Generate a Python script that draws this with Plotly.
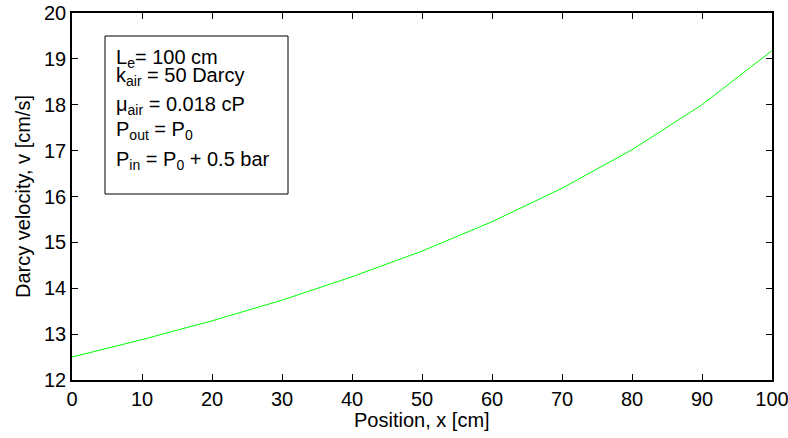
import plotly.graph_objects as go

position_cm = [0, 10, 20, 30, 40, 50, 60, 70, 80, 90, 100]
darcy_velocity = [12.5, 12.88, 13.29, 13.74, 14.25, 14.81, 15.45, 16.18, 17.02, 18.0, 19.18]
x_ticks = [0, 10, 20, 30, 40, 50, 60, 70, 80, 90, 100]
y_ticks = [12, 13, 14, 15, 16, 17, 18, 19, 20]
x_title = "Position, x [cm]"
y_title = "Darcy velocity, v [cm/s]"
box_lines = [
    "L<sub>e</sub>= 100 cm",
    "k<sub>air</sub> = 50 Darcy",
    "\u03bc<sub>air</sub> = 0.018 cP",
    "P<sub>out</sub> = P<sub>0</sub>",
    "P<sub>in</sub> = P<sub>0</sub> + 0.5 bar",
]

W, H = 788, 438
L, R, T, B = 72, 16, 13, 58
pw, ph = W - L - R, H - T - B

def px(xp):
    return (xp - L) / pw

def py(yp):
    return (H - B - yp) / ph

fig = go.Figure()
fig.add_trace(go.Scatter(x=position_cm, y=darcy_velocity, mode="lines",
                         line=dict(color="#00ff00", width=1), showlegend=False))

font = dict(family="Liberation Sans, Arial, sans-serif", size=20, color="black")
axis_common = dict(showgrid=False, zeroline=False, showline=True, linecolor="black",
                   linewidth=1.5, mirror="ticks", ticks="inside", ticklen=6,
                   tickcolor="black", tickwidth=1, tickfont=font, automargin=False,
                   ticklabeloverflow="allow")

fig.update_layout(
    width=W, height=H, margin=dict(l=L, r=R, t=T, b=B),
    paper_bgcolor="white", plot_bgcolor="white", font=font,
    xaxis=dict(range=[0, 100], tickvals=x_ticks, **axis_common),
    yaxis=dict(range=[12, 20], tickvals=y_ticks, **axis_common),
)

fig.add_annotation(text=x_title, xref="paper", yref="paper", x=0.5, y=py(420),
                   xanchor="center", yanchor="middle", showarrow=False, font=font)
fig.add_annotation(text=y_title, xref="paper", yref="paper", x=px(23), y=py(197),
                   xanchor="center", yanchor="middle", showarrow=False, font=font,
                   textangle=-90)

fig.add_shape(type="rect", xref="paper", yref="paper",
              x0=px(105), x1=px(288), y0=py(194), y1=py(36),
              line=dict(color="black", width=1), fillcolor="white", layer="above")

centers = [58, 76, 105, 130, 161]
for txt, cy in zip(box_lines, centers):
    fig.add_annotation(text=txt, xref="paper", yref="paper", x=px(114), y=py(cy),
                       xanchor="left", yanchor="middle", showarrow=False, font=font)

fig.write_html("out.html", config={"displayModeBar": False},
               post_script="document.body.style.margin='0';document.body.style.padding='0';")
